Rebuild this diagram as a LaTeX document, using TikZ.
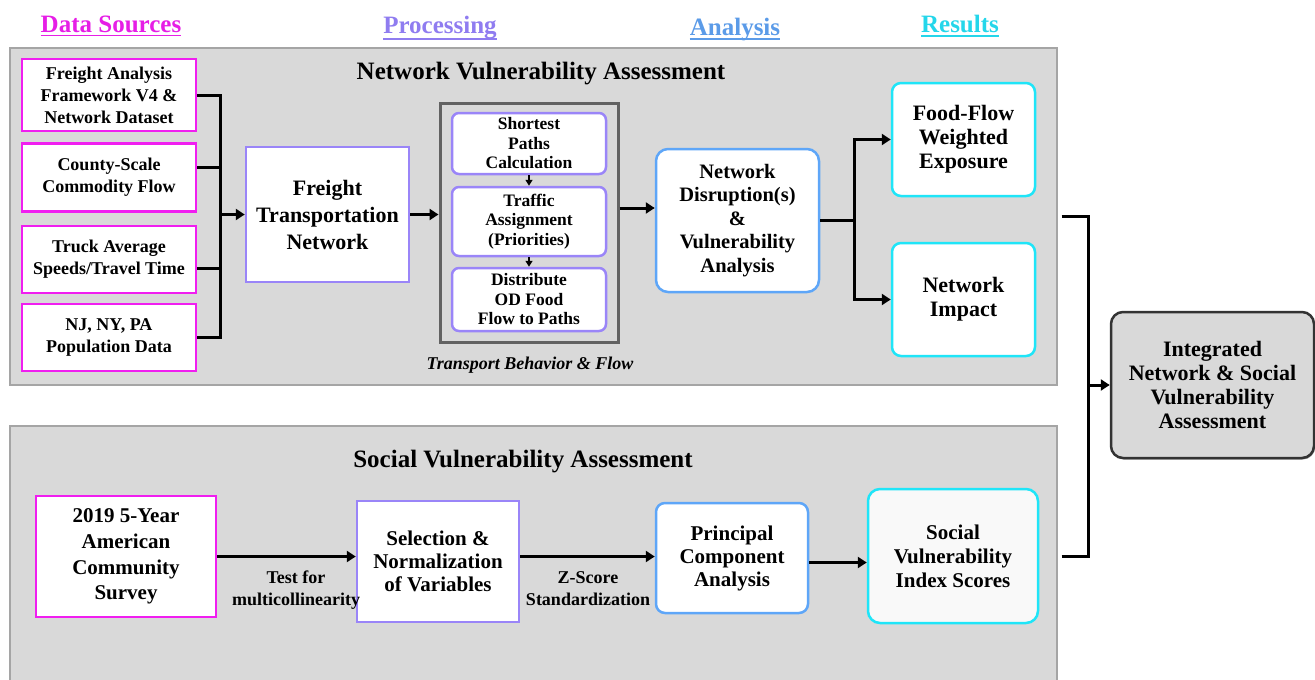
\documentclass[tikz,border=0pt]{standalone}
\usepackage{fontspec}
\setmainfont{LiberationSerif}[Extension=.ttf, UprightFont=*-Regular, BoldFont=*-Bold, ItalicFont=*-Italic, BoldItalicFont=*-BoldItalic]
\usetikzlibrary{arrows.meta,shadows}

\definecolor{cMag}{HTML}{F01EF0}
\definecolor{cLav}{HTML}{9A85F8}
\definecolor{cBlue}{HTML}{5EA6F8}
\definecolor{cCyan}{HTML}{1FE5F8}
\definecolor{hMag}{HTML}{E61EE6}
\definecolor{hLav}{HTML}{8F7CF0}
\definecolor{hBlue}{HTML}{5B9BE8}
\definecolor{hCyan}{HTML}{24D6EA}
\definecolor{panel}{HTML}{D9D9D9}
\definecolor{panelEdge}{HTML}{A5A5A5}
\definecolor{frameEdge}{HTML}{626262}
\definecolor{finalEdge}{HTML}{333333}
\definecolor{svisFill}{HTML}{F9F9F9}

\begin{document}
\begin{tikzpicture}[x=1pt,y=-1pt,
  every node/.style={inner sep=0pt, align=center},
  fnt/.style 2 args={font=\fontsize{#1}{#2}\selectfont\bfseries},
  hdr/.style={fnt={25}{30}, anchor=base},
  uline/.style={line width=1.8pt},
  panelbox/.style={draw=panelEdge, fill=panel, line width=1.2pt},
  sqbox/.style={draw, fill=white, line width=2.5pt},
  rbox/.style={sqbox, rounded corners=9pt},
  srcbox/.style={sqbox, draw=cMag, fnt={18}{22}, minimum width=174pt},
  ln/.style={line width=3pt},
  arr/.style={line width=3pt, -{Triangle[length=9pt,width=11pt]}},
  sarr/.style={line width=2pt, -{Triangle[length=6pt,width=7pt]}}
]
\useasboundingbox (0,0) rectangle (1315,680);

% two assessment panels
\node[panelbox, minimum width=1047pt, minimum height=337pt] (topP) at (533.5,216.5) {};
\node[panelbox, minimum width=1047pt, minimum height=260pt] (botP) at (533.5,556) {};

\node[fnt={25}{30}] (ttop) at (541,74) {Network Vulnerability Assessment};
\node[fnt={25}{30}] (tbot) at (523,462) {Social Vulnerability Assessment};

% column headers
\node[hdr, text=hMag] (hds) at (111,32) {Data Sources};
\node[hdr, text=hLav] (hpr) at (440,34) {Processing};
\node[hdr, text=hBlue] (han) at (735,35) {Analysis};
\node[hdr, text=hCyan] (hre) at (960,32) {Results};
\draw[uline, hMag] ([yshift=-3.5pt]hds.base west) -- ([yshift=-3.5pt]hds.base east);
\draw[uline, hLav] ([yshift=-5pt]hpr.base west) -- ([yshift=-5pt]hpr.base east);
\draw[uline, hBlue] ([yshift=-4pt]han.base west) -- ([yshift=-4pt]han.base east);
\draw[uline, hCyan] ([yshift=-4pt]hre.base west) -- ([yshift=-4pt]hre.base east);

% data sources
\node[srcbox, minimum height=72pt] (s1) at (109,95) {Freight Analysis\\Framework V4 \&\\Network Dataset};
\node[srcbox, minimum height=68pt] (s2) at (109,177.5) {County-Scale\\Commodity Flow};
\node[srcbox, minimum height=67pt] (s3) at (109,259.5) {Truck Average\\Speeds/Travel Time};
\node[srcbox, minimum height=67pt] (s4) at (109,337.5) {NJ, NY, PA\\Population Data};

\coordinate (bus) at (220,214.5);
\coordinate (s2o) at ([yshift=10pt]s2.east);
\coordinate (s3o) at ([yshift=-9pt]s3.east);
\draw[ln] (s1.east) -| (bus |- s4.east) -- (s4.east);
\draw[ln] (s2o) -- (bus |- s2o);
\draw[ln] (s3o) -- (bus |- s3o);

% freight network
\node[sqbox, draw=cLav, fnt={22}{27}, minimum width=163pt, minimum height=135pt] (ftn) at (327.5,214.5) {Freight\\Transportation\\Network};
\draw[arr] (bus) -- (ftn.west);

% transport behaviour & flow
\node[draw=frameEdge, line width=3pt, minimum width=178pt, minimum height=239pt] (frame) at (529,222.5) {};
\draw[arr] (ftn.east) -- (frame.west |- ftn.east);
\node[rbox, draw=cLav, fnt={17.5}{19.5}, minimum width=154pt, minimum height=61pt, rounded corners=7pt] (p1) at (529,143.5) {Shortest\\Paths\\Calculation};
\node[rbox, draw=cLav, fnt={17.5}{19.5}, minimum width=154pt, minimum height=69pt, rounded corners=7pt] (p2) at (529,221.5) {Traffic\\Assignment\\(Priorities)};
\node[rbox, draw=cLav, fnt={17.5}{19.5}, minimum width=154pt, minimum height=63pt, rounded corners=7pt] (p3) at (529,299.5) {Distribute\\OD Food\\Flow to Paths};
\draw[sarr] (p1) -- (p2);
\draw[sarr] (p2) -- (p3);
\node[font=\fontsize{18}{22}\selectfont\bfseries\itshape] (tbf) at (530,365) {Transport Behavior \& Flow};

% analysis
\node[rbox, draw=cBlue, fnt={20.5}{23.5}, minimum width=163pt, minimum height=143pt, rounded corners=12pt] (ndva) at (737.5,220.5) {Network\\Disruption(s)\\\&\\Vulnerability\\Analysis};
\coordinate (y208) at (0,208);
\draw[arr] (frame.east |- y208) -- (ndva.west |- y208);

% results
\node[rbox, draw=cCyan, fnt={22}{24}, minimum width=143pt, minimum height=113pt] (ffwe) at (963.5,139.5) {Food-Flow\\Weighted\\Exposure};
\node[rbox, draw=cCyan, fnt={22}{24}, minimum width=143pt, minimum height=113pt] (ni) at (963.5,299.5) {Network\\Impact};
\coordinate (bus2) at (854,220.5);
\draw[ln] (ndva.east) -- (bus2);
\draw[arr] (bus2) |- (ffwe.west);
\draw[arr] (bus2) |- (ni.west);

% integrated assessment
\node[rbox, draw=finalEdge, fill=panel, fnt={22}{24}, minimum width=203pt, minimum height=146pt, rounded corners=12pt,
  drop shadow={shadow xshift=1pt, shadow yshift=-1.5pt, fill=black, opacity=0.35}] (fin) at (1212.5,385) {Integrated\\Network \& Social\\Vulnerability\\Assessment};
\coordinate (rb) at (1088,385);
\draw[ln] ([xshift=4pt]topP.east) -| (rb);
\draw[ln] ([xshift=4pt]botP.east) -| (rb);
\draw[arr] (rb) -- (fin.west);

% social vulnerability chain
\node[sqbox, draw=cMag, fnt={21}{25.7}, minimum width=180pt, minimum height=121pt] (acs) at (126,556.5) {2019 5-Year\\American\\Community\\Survey};
\node[sqbox, draw=cLav, fnt={21}{23}, minimum width=162pt, minimum height=121pt] (snv) at (438,561.5) {Selection \&\\Normalization\\of Variables};
\node[rbox, draw=cBlue, fnt={21}{23}, minimum width=152pt, minimum height=110pt] (pca) at (732,558) {Principal\\Component\\Analysis};
\node[rbox, draw=cCyan, fill=svisFill, fnt={21}{24}, minimum width=170pt, minimum height=134pt, rounded corners=12pt] (svis) at (953,556) {Social\\Vulnerability\\Index Scores};
\draw[arr] (acs.east) -- (snv.west |- acs.east);
\draw[arr] (snv.east |- acs.east) -- (pca.west |- acs.east);
\coordinate (y562) at (0,562.5);
\draw[arr] (pca.east |- y562) -- (svis.west |- y562);
\node[fnt={18}{22}] (l1) at (296,590) {Test for\\multicollinearity};
\node[fnt={18}{22}] (l2) at (588,589) {Z-Score\\Standardization};
\end{tikzpicture}
\end{document}
